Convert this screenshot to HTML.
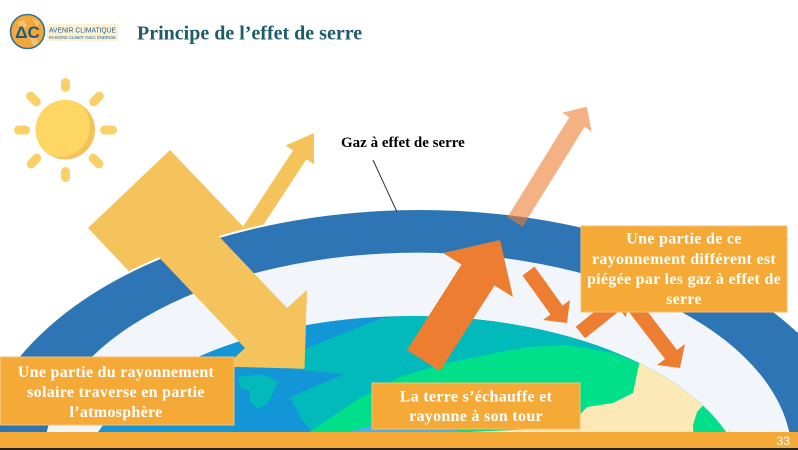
<!DOCTYPE html>
<html><head><meta charset="utf-8"><style>
html,body{margin:0;padding:0;background:#fff;width:798px;height:450px;overflow:hidden;}
svg{display:block;overflow:hidden;}
</style></head><body>
<svg width="798" height="450" viewBox="0 0 798 450" xmlns="http://www.w3.org/2000/svg">
<defs>
<clipPath id="earth"><ellipse cx="412" cy="492" rx="334" ry="176"/></clipPath>
<clipPath id="sun"><circle cx="65.3" cy="129.7" r="29.7"/></clipPath>
</defs>
<rect width="798" height="450" fill="#fff"/>

<!-- logo -->
<circle cx="27.5" cy="31.5" r="17" fill="#F3A63C" stroke="#2E7493" stroke-width="1.6"/>
<path d="M17,22 L24,20 L27,26 L22,30 Z M30,38 L36,36 L38,44 L33,46 Z M32,18 L40,22 L37,27 Z" fill="#F8C77C" opacity="0.8"/>
<text x="27.5" y="38" font-family="Liberation Sans, sans-serif" font-size="17" font-weight="bold" fill="#1C5C7A" text-anchor="middle">ΔC</text>
<rect x="47" y="24" width="71" height="17" fill="#FBF1D6"/>
<text x="49" y="32.5" font-family="Liberation Sans, sans-serif" font-size="7.2" fill="#2A5F80" textLength="67" lengthAdjust="spacingAndGlyphs">AVENIR CLIMATIQUE</text>
<text x="49" y="39" font-family="Liberation Sans, sans-serif" font-size="4.6" fill="#2A5F80" textLength="67" lengthAdjust="spacingAndGlyphs">RAISONS CLIMAT AVEC ÉNERGIE</text>

<!-- title -->
<text x="137" y="39.5" font-family="Liberation Serif, serif" font-size="20" font-weight="bold" fill="#1F5C6B">Principe de l’effet de serre</text>

<!-- sun -->
<g fill="#FBD068">
<rect x="61" y="78" width="9" height="14" rx="4.5"/>
<rect x="61" y="167" width="9" height="15" rx="4.5"/>
<rect x="14" y="125.5" width="16" height="9" rx="4.5"/>
<rect x="100" y="125.5" width="17" height="9" rx="4.5"/>
<rect x="25" y="94.5" width="17" height="9" rx="4.5" transform="rotate(45 33.5 99)"/>
<rect x="88" y="94.5" width="17" height="9" rx="4.5" transform="rotate(-45 96.5 99)"/>
<rect x="25.5" y="156.5" width="17" height="9" rx="4.5" transform="rotate(-45 34 161)"/>
<rect x="87.5" y="156.5" width="17" height="9" rx="4.5" transform="rotate(45 96 161)"/>
</g>
<circle cx="65.3" cy="129.7" r="29.7" fill="#F5C259"/>
<circle cx="59.5" cy="126.5" r="30.5" fill="#FDD664" clip-path="url(#sun)"/>

<!-- yellow wide block (behind atmosphere) -->
<polygon points="88,228 170,150 275,260 192,338" fill="#F4C35B"/>
<!-- thin yellow reflected arrow -->
<polygon points="240.8,230 293.1,150.4 285.6,145.5 314,133 314,164.1 306.5,159.2 254.2,238.8" fill="#F4C35B"/>

<!-- atmosphere -->
<path d="M0,450 L0,383.1 A445,260 0 0,1 798,331.8 L798,450 Z" fill="#2E75B6"/>
<path d="M0,383.1 A445,260 0 0,1 798,331.8" fill="none" stroke="#fff" stroke-width="2"/>
<path d="M44.2,450 A374,204 0 0,1 791.8,450 Z" fill="#F2F6FB"/>

<!-- earth -->
<g clip-path="url(#earth)">
<rect x="78" y="300" width="670" height="150" fill="#1396D7"/>
<path d="M382,318 L430,314 L640,330 L730,400 L730,450 L330,450 L302,420 L290,397 L344,374 L293,369 L300,356 L307,348 Z" fill="#02BABB"/>
<path d="M300,450 L308,433 L330,418 L357,400 L400,377 L447,363 L500,352 L527,347 L567,345 L613,353 L665,373 L690,385 L633,393 L613,403 L587,407 L577,418 L570,450 Z" fill="#00E08A"/>
<path d="M640,360 L760,360 L760,450 L470,450 L470,432 L560,428 L577,418 L587,407 L613,403 L633,393 Z" fill="#FDE9B6"/>
<path d="M706,402 L697,412 L693,425 L694,450 L760,450 L760,390 Z" fill="#00E08A"/>
<path d="M322.25,450 A85,35 0 0,1 487.75,450 Z" fill="#46B5EA"/>
<path d="M240,378 L262,376 L276,382 L272,392 L266,403 L258,407 L251,400 L252,390 L242,387 Z" fill="#02BABB" stroke="#02BABB" stroke-width="3" stroke-linejoin="round"/>
</g>

<!-- narrow yellow arrow through atmosphere -->
<polygon points="141.5,239 183.5,199 287,308 307,290 304.5,368.7 225.3,366.6 245,348" fill="#F4C35B"/>

<!-- light orange escaping arrow (semi-transparent) -->
<polygon points="507.4,217.2 569.4,117.2 562.3,112.7 586.7,106.7 591.7,131.7 584.6,126.8 522.6,226.8" fill="#ED7D31" fill-opacity="0.6"/>

<!-- big orange arrow -->
<polygon points="407,350 461.5,264.5 443,253 500,240 513,297 494.5,285.5 440,371" fill="#ED7D31"/>
<!-- small orange arrows -->
<polygon points="522.5,275.5 534.5,266.5 562.5,305.5 570,300 567,323 543,320 550.5,314.5" fill="#ED7D31"/>
<polygon points="575.7,326.7 610.8,298.6 604.9,291.2 628.7,293.8 626.1,317.6 620.2,310.2 585.1,338.3" fill="#ED7D31"/>
<polygon points="627,309.5 639,300.5 677,350 685,344 680,368 657,365 665,359" fill="#ED7D31"/>

<!-- gaz label -->
<line x1="373" y1="160" x2="397" y2="212" stroke="#333" stroke-width="1"/>
<text x="341" y="147" font-family="Liberation Serif, serif" font-size="15" font-weight="bold" fill="#000">Gaz à effet de serre</text>

<!-- boxes -->
<g font-family="Liberation Serif, serif" font-size="16" font-weight="bold" fill="#fff" text-anchor="middle" letter-spacing="0.3">
<rect x="0.5" y="357" width="233.5" height="68" fill="#F5AA38" stroke="#F8BF72" stroke-width="1"/>
<text x="116" y="377">Une partie du rayonnement</text>
<text x="116" y="397">solaire traverse en partie</text>
<text x="116" y="417">l’atmosphère</text>

<rect x="372" y="383" width="208" height="46" fill="#F5AA38" stroke="#F8BF72" stroke-width="1"/>
<text x="476" y="401.5">La terre s’échauffe et</text>
<text x="476" y="421">rayonne à son tour</text>

<rect x="581" y="226" width="206" height="86" fill="#F5AA38" stroke="#F8BF72" stroke-width="1"/>
<text x="684" y="243.5">Une partie de ce</text>
<text x="684" y="264">rayonnement différent est</text>
<text x="684" y="284">piégée par les gaz à effet de</text>
<text x="684" y="304">serre</text>
</g>

<!-- bottom bar -->
<rect x="0" y="432" width="798" height="16" fill="#F5AA38"/>
<rect x="0" y="448" width="798" height="2" fill="#222"/>
<text x="790" y="445" font-family="Liberation Sans, sans-serif" font-size="12" fill="#fff" text-anchor="end">33</text>
</svg>
</body></html>
